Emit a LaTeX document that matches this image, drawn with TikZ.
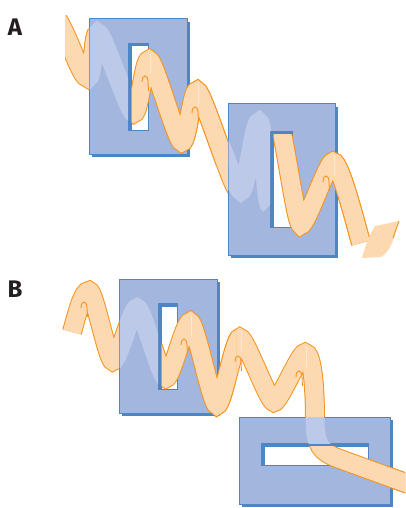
\documentclass[tikz,border=0pt]{standalone}
\usepackage{fontspec}
\setsansfont{Fira Sans}

\definecolor{platefill}{HTML}{A3B6DE}
\definecolor{plateline}{HTML}{4C86C7}
\definecolor{tint}{HTML}{BCC9E8}
\definecolor{bandfill}{HTML}{FDD9B1}
\definecolor{bandline}{HTML}{F5921E}
\definecolor{labelgray}{HTML}{231F20}

\tikzset{
  crest/.style={to path={.. controls +(5.5,0) and +(-5.5,0) .. (\tikztotarget)}},
  band edge/.style={draw=bandline, line width=20pt},
  band/.style={draw=bandfill, line width=18pt},
  band behind/.style={draw=tint, line width=19pt},
  fold/.style={draw=bandline, line width=0.9pt},
  crease/.style={draw=white, opacity=.45, line width=0.7pt},
  panel/.style={font=\sffamily\bfseries\fontsize{24}{24}\selectfont, text=labelgray},
}

% plate with a drop shadow, corners (x1,y1) (x2,y2)
\newcommand\drawplate[4]{%
  \fill[plateline] (#1+3,#2+3) rectangle (#3+3,#4+3);
  \draw[plateline, fill=platefill, line width=1pt] (#1,#2) rectangle (#3,#4);}
% slot cut into a plate
\newcommand\drawslot[4]{%
  \fill[plateline] (#1,#2) rectangle (#3,#4);
  \fill[white] (#1+3.5,#2+3.5) rectangle (#3-1.5,#4-1.5);}
% ribbon = orange edge + peach body
\newcommand\ribbon[1]{\draw[band edge] #1; \draw[band] #1;}
% little fold at a crest
\newcommand\fold[1]{%
  \draw[fold] (#1) ++(-3,6) .. controls +(0,-8) and +(0,-8) .. ++(6,0) -- ++(0.5,9);}

\begin{document}
\begin{tikzpicture}[x=1pt,y=-1pt]
  \clip (0,0) rectangle (405,508);

  % centre lines of the ribbons
  \def\ribbonA{(58,20) .. controls (70,40) and (81,78) .. (88,78) to[crest] (98,33)
    to[crest] (134,113) to[crest] (149,60) to[crest] (182,142) to[crest] (197,91)
    to[crest] (238,190) to[crest] (277,118)}
  \def\ribbonAtail{(277,118) to[crest] (301,225) to[crest] (333,162)
    .. controls +(7,0) and (356,225) .. (361,243)}
  \def\ribbonB{(72,332) .. controls (78,310) and (83,291) .. (89,291) to[crest] (113,361)
    to[crest] (137,308) to[crest] (166,378) to[crest] (190,322) to[crest] (217,405)
    to[crest] (240,338) to[crest] (274,402) to[crest] (305,353)
    .. controls +(7,0) and (315,385) .. (315,420) .. controls (315,446) and (322,452) .. (337,458)
    -- (425,490)}

  % ribbons, whole length
  \begin{scope}
    \clip (65,0) rectangle (405,270);
    \ribbon{\ribbonA \ribbonAtail}
  \end{scope}
  \ribbon{\ribbonB}

  % plates A
  \drawplate{89}{19}{187}{154}
  \drawslot{128}{43}{149}{131}
  \drawplate{228}{104}{335}{255}
  \drawslot{270}{131}{293}{228}
  % plates B
  \drawplate{119}{279}{217}{413}
  \drawslot{158}{303}{178}{390}
  \drawplate{239}{417}{390}{504}
  \drawslot{261}{443}{369}{466}

  % ribbon seen through the plates
  \begin{scope}
    \clip (89.5,19.5) rectangle (128,153.5);
    \draw[band behind] \ribbonA;
  \end{scope}
  \begin{scope}
    \clip (228.5,104.5) rectangle (270,254.5) (270,104.5) rectangle (334.5,131);
    \draw[band behind] (197,91) to[crest] (241,191) to[crest] (259,122) to[crest] (270,205);
  \end{scope}
  \begin{scope}
    \clip (119.5,279.5) rectangle (158,412.5);
    \draw[band behind] \ribbonB;
  \end{scope}
  \begin{scope}
    \clip (239.5,417.5) rectangle (389.5,443);
    \draw[band behind] \ribbonB;
  \end{scope}

  % ribbon in front after passing the slots
  \begin{scope}
    \clip (131.5,10) rectangle (228,165);
    \ribbon{\ribbonA}
  \end{scope}
  \begin{scope}
    \clip (273.5,134.5) rectangle (405,270);
    \ribbon{\ribbonAtail}
  \end{scope}
  \begin{scope}
    \clip (161.5,270) rectangle (236,425);
    \ribbon{\ribbonB}
  \end{scope}
  \begin{scope}
    \clip (230,446.5) rectangle (405,508);
    \ribbon{\ribbonB}
  \end{scope}

  % twisted end of ribbon A
  \fill[bandfill] (362,258) .. controls (365,247) and (368,238) .. (375,226) -- (399,221)
    .. controls (395,232) and (393,250) .. (381,257) -- cycle;
  \draw[fold] (399,221) -- (393,238);

  % folds and creases on the crests
  \foreach \p in {{145,76},{195,107},{326,176},{84,302},{184,339},{238,356},{299,371}}
    \fold{\p};
  \foreach \x/\y in {149/60,197/91,333/162,190/322,240/338,305/353}
    \draw[crease] (\x+1,\y-7) -- (\x+1,\y+14);

  \node[panel] (labelA) at (15,27) {A};
  \node[panel] (labelB) at (15,289) {B};
\end{tikzpicture}
\end{document}
